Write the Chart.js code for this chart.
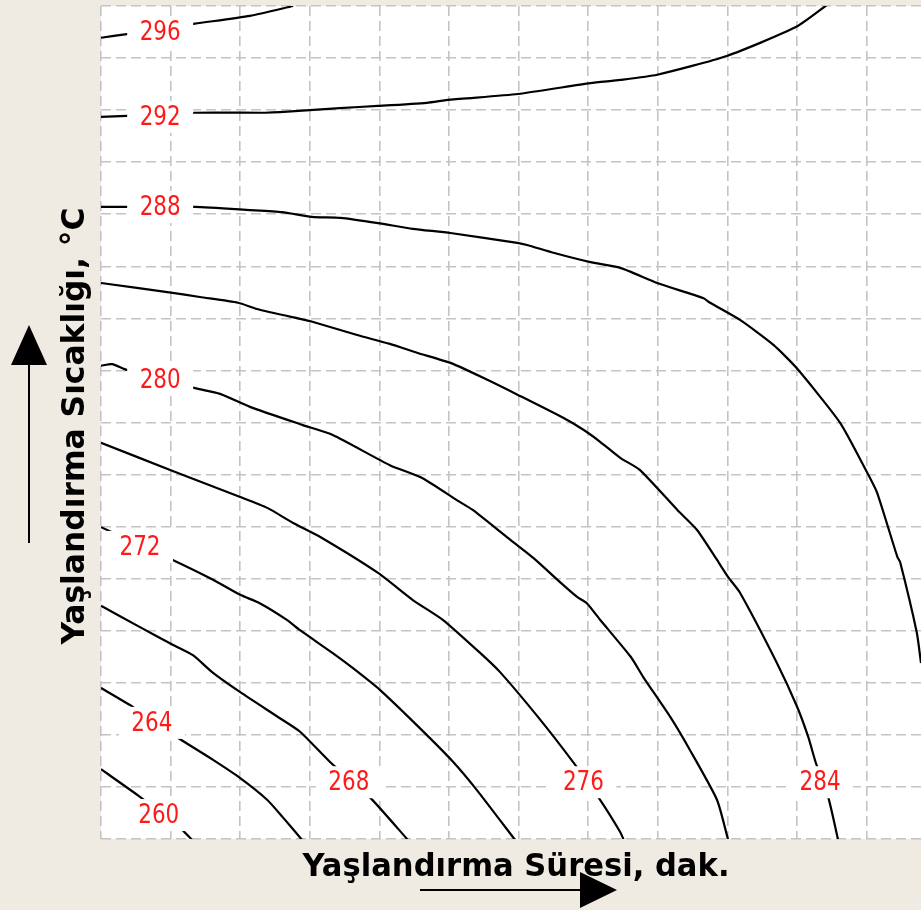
<!DOCTYPE html>
<html>
<head>
<meta charset="utf-8">
<script src="https://cdn.jsdelivr.net/npm/chart.js@4"></script>
<style>
    html, body { margin: 0; padding: 0; background: #efebe2; }
    #wrap { width: 921px; height: 910px; position: relative; }
</style>
</head>
<body>
<div id="wrap"><canvas id="kontur"></canvas></div>
<script>
/* DATA (grid units: x = aging time steps, y = temperature steps) */
const levels = [260, 264, 268, 272, 276, 280, 284, 288, 292, 296];

const line260 = [[0, 1.34], [0.56, 0.81], [1.14, 0.21], [1.31, -0.02]];
const line264 = [[0, 2.90], [0.42, 2.57], [1.11, 1.94], [1.61, 1.52], [2.00, 1.17], [2.39, 0.75], [2.61, 0.42], [2.89, -0.02]];
const line268 = [[0, 4.48], [0.56, 4.07], [1.03, 3.73], [1.32, 3.53], [1.61, 3.19], [2.00, 2.82], [2.57, 2.32], [2.86, 2.06], [3.29, 1.48], [3.87, 0.79], [4.41, -0.02]];
const line272 = [[0, 5.99], [1.03, 5.36], [1.61, 4.98], [2.00, 4.69], [2.28, 4.53], [2.67, 4.21], [2.86, 4.01], [3.33, 3.57], [3.62, 3.28], [4.01, 2.86], [4.58, 2.13], [5.06, 1.48], [5.40, 0.94], [5.95, -0.02]];
const line276 = [[0, 7.61], [1.03, 7.07], [2.00, 6.57], [2.39, 6.36], [2.76, 6.07], [3.15, 5.80], [3.98, 5.11], [4.48, 4.59], [4.91, 4.21], [5.45, 3.57], [5.73, 3.21], [6.28, 2.34], [6.78, 1.48], [7.17, 0.75], [7.46, 0.13], [7.51, -0.02]];
const line280 = [[0, 9.09], [0.16, 9.12], [0.37, 9.01], [1.35, 8.66], [1.71, 8.55], [2.14, 8.30], [2.90, 7.95], [3.33, 7.76], [4.15, 7.18], [4.62, 6.93], [5.11, 6.51], [5.34, 6.32], [5.83, 5.80], [6.21, 5.40], [6.59, 4.94], [6.84, 4.65], [6.98, 4.53], [7.17, 4.21], [7.61, 3.50], [7.79, 3.11], [8.18, 2.34], [8.46, 1.71], [8.85, 0.75], [9.01, -0.02]];
const line284 = [[0, 10.68], [1.03, 10.49], [1.42, 10.41], [1.97, 10.30], [2.24, 10.18], [2.86, 9.99], [3.00, 9.95], [3.68, 9.68], [4.15, 9.51], [4.54, 9.34], [5.03, 9.14], [5.55, 8.82], [5.99, 8.53], [6.64, 8.09], [6.93, 7.86], [7.17, 7.63], [7.46, 7.32], [7.74, 7.09], [8.28, 6.32], [8.56, 5.94], [8.85, 5.36], [9.01, 5.03], [9.18, 4.73], [9.71, 3.38], [10.00, 2.54], [10.16, 1.96], [10.27, 1.46], [10.45, 0.79], [10.59, -0.02]];
const line288 = [[0, 12.14], [1.35, 12.14], [2.14, 12.08], [2.60, 12.04], [3.03, 11.95], [3.44, 11.93], [3.98, 11.83], [4.48, 11.72], [5.02, 11.64], [5.98, 11.45], [6.12, 11.41], [6.50, 11.26], [7.03, 11.08], [7.46, 10.97], [7.99, 10.68], [8.65, 10.39], [8.75, 10.30], [9.18, 9.97], [9.66, 9.49], [9.99, 9.05], [10.62, 7.99], [11.01, 7.03], [11.15, 6.65], [11.44, 5.42], [11.48, 5.32], [11.72, 3.96], [11.78, 3.38]];
const line292 = [[0, 13.87], [0.37, 13.89], [1.35, 13.95], [2.36, 13.95], [2.57, 13.96], [3.43, 14.04], [3.98, 14.08], [4.68, 14.14], [5.01, 14.20], [5.99, 14.31], [7.03, 14.52], [7.46, 14.58], [7.99, 14.68], [8.99, 15.04], [9.99, 15.60], [10.43, 16.02]];
const line296 = [[0, 15.39], [0.37, 15.46], [1.35, 15.66], [2.14, 15.81], [2.76, 16.00]];

const contourLines = [line260, line264, line268, line272, line276, line280, line284, line288, line292, line296];

// label anchor for each level, same order as levels
const labelX = [0.83, 0.73, 3.56, 0.56, 6.93, 0.85, 10.33, 0.85, 0.85, 0.85];
const labelY = [0.46, 2.23, 1.09, 5.61, 1.09, 8.82, 1.09, 12.14, 13.87, 15.50];

const xTitle = "Yaşlandırma Süresi, dak.";
const yTitle = "Yaşlandırma Sıcaklığı, °C";

/* PLUGINS */
const backdrop = {
    id: "backdrop",
    beforeDraw(chart) {
        const { ctx, chartArea: a } = chart;
        ctx.save();
        ctx.fillStyle = "#efebe2";
        ctx.fillRect(0, 0, chart.width, chart.height);
        ctx.fillStyle = "#ffffff";
        ctx.fillRect(a.left, a.top, a.right - a.left, a.bottom - a.top);
        ctx.restore();
    }
};

// draws text squeezed/stretched to a given width
function fitText(ctx, text, x, y, width, rot) {
    const w = ctx.measureText(text).width;
    ctx.save();
    ctx.translate(x, y);
    if (rot) ctx.rotate(rot);
    ctx.scale(width / w, 1);
    ctx.fillText(text, 0, 0);
    ctx.restore();
}

const contourLabels = {
    id: "contourLabels",
    afterDatasetsDraw(chart) {
        const { ctx, scales } = chart;
        ctx.save();
        ctx.font = '27px "DejaVu Sans"';
        ctx.textAlign = "center";
        ctx.textBaseline = "middle";
        levels.forEach((lv, i) => {
            const px = scales.x.getPixelForValue(labelX[i]);
            const py = scales.y.getPixelForValue(labelY[i]);
            ctx.fillStyle = "#ffffff";
            ctx.fillRect(px - 33, py - 16, 66, 32);
            ctx.fillStyle = "#ff1a1a";
            fitText(ctx, String(lv), px, py + 1, 41, 0);
        });
        ctx.restore();
    }
};

const axisDecor = {
    id: "axisDecor",
    afterDraw(chart) {
        const ctx = chart.ctx;
        ctx.save();
        ctx.fillStyle = "#000";
        ctx.strokeStyle = "#000";
        ctx.font = 'bold 32px "DejaVu Sans"';
        ctx.textAlign = "center";
        ctx.textBaseline = "alphabetic";
        fitText(ctx, xTitle, 516, 876, 427, 0);
        fitText(ctx, yTitle, 84, 426, 437, -Math.PI / 2);

        // arrows
        ctx.lineWidth = 2;
        ctx.beginPath();
        ctx.moveTo(29, 543); ctx.lineTo(29, 362);
        ctx.moveTo(420, 890); ctx.lineTo(582, 890);
        ctx.stroke();
        ctx.beginPath();
        ctx.moveTo(29, 325); ctx.lineTo(11, 365); ctx.lineTo(47, 365); ctx.closePath();
        ctx.moveTo(617, 890); ctx.lineTo(580, 872); ctx.lineTo(580, 908); ctx.closePath();
        ctx.fill();
        ctx.restore();
    }
};

/* CHART */
new Chart(document.getElementById("kontur"), {
    type: "scatter",
    data: {
        datasets: contourLines.map((pts, i) => ({
            label: String(levels[i]),
            data: pts.map(p => ({ x: p[0], y: p[1] })),
            showLine: true,
            borderColor: "#000000",
            borderWidth: 2.2,
            pointRadius: 0,
            tension: 0.2
        }))
    },
    options: {
        responsive: true,
        maintainAspectRatio: false,
        animation: false,
        layout: { padding: { left: 101, top: 6, right: 0, bottom: 71 } },
        scales: {
            x: {
                type: "linear", min: 0, max: 11.78,
                ticks: { display: false, stepSize: 1, includeBounds: false },
                grid: { color: "#c4c4c4", lineWidth: 1.6, drawTicks: false },
                border: { display: false, dash: [10, 5] }
            },
            y: {
                type: "linear", min: 0, max: 16,
                ticks: { display: false, stepSize: 1 },
                grid: { color: "#c4c4c4", lineWidth: 1.6, drawTicks: false },
                border: { display: false, dash: [10, 5] }
            }
        },
        plugins: {
            legend: { display: false },
            tooltip: { enabled: false }
        }
    },
    plugins: [backdrop, contourLabels, axisDecor]
});
</script>
</body>
</html>
